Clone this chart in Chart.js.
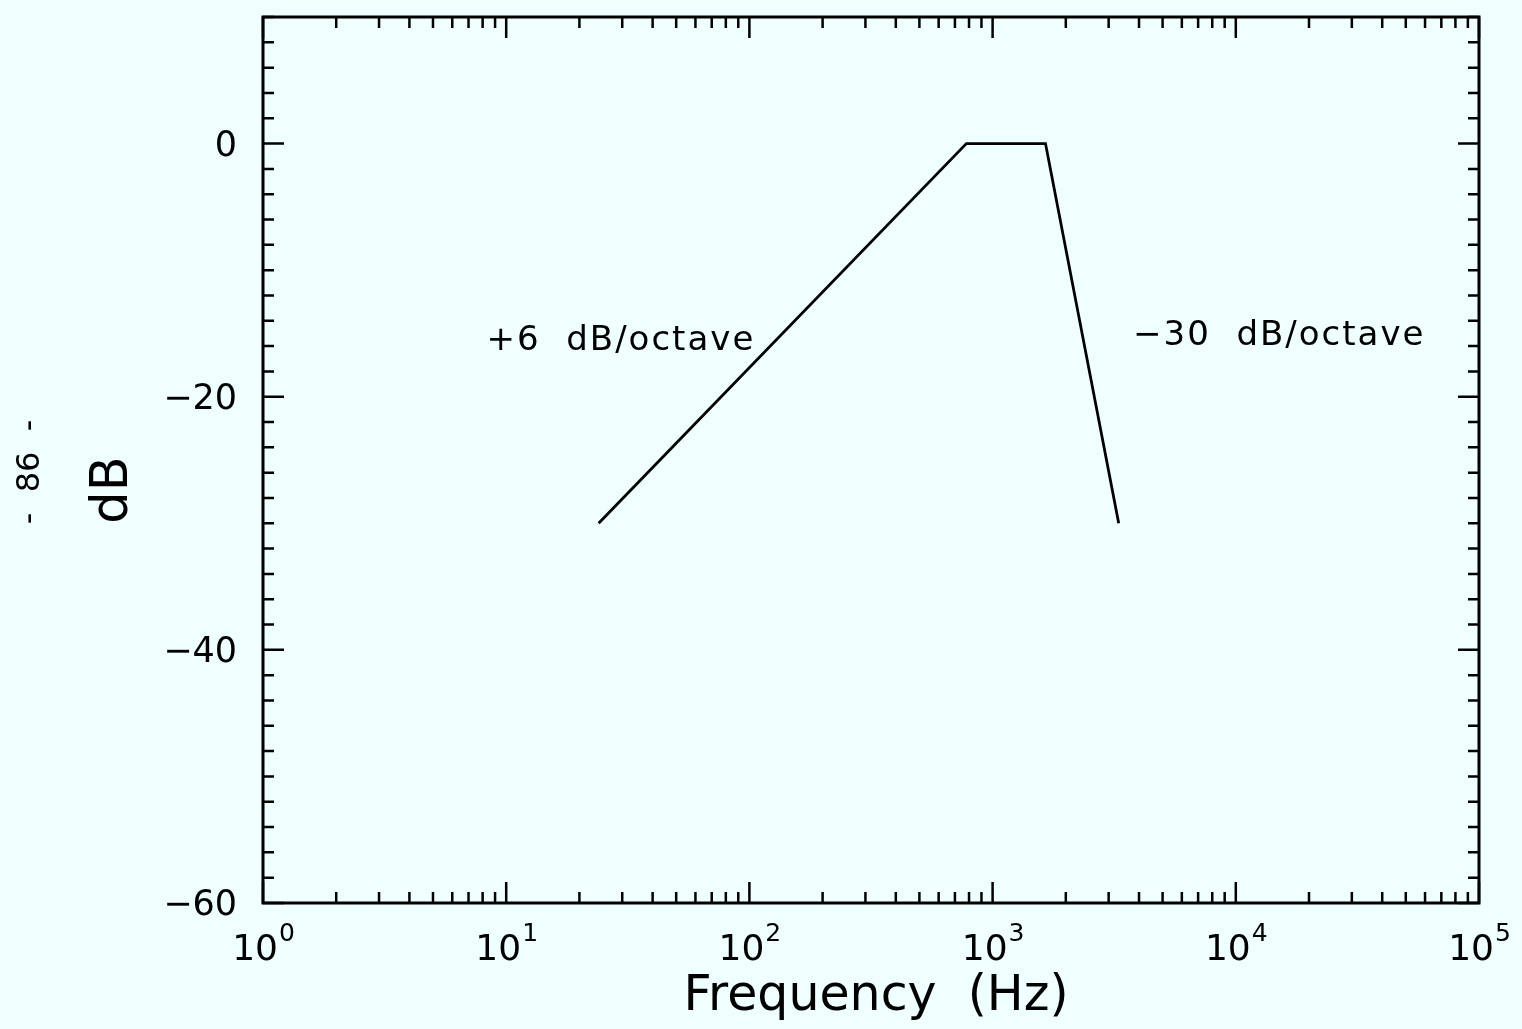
<!DOCTYPE html>
<html>
<head>
<meta charset="utf-8">
<title>Filter response</title>
<script src="https://cdn.jsdelivr.net/npm/chart.js@4.4.1/dist/chart.umd.min.js"></script>
<style>
  html, body { margin: 0; padding: 0; background: #effefe; }
  #wrap { width: 1522px; height: 1029px; }
</style>
</head>
<body>
<div id="wrap"><canvas id="response"></canvas></div>
<script>
// corner points of the response curve
const freqHz   = [24, 780, 1650, 3300];
const levelDb  = [-30, 0, 0, -30];

// axes
const xDecades    = [1, 10, 100, 1000, 10000, 100000];
const xExponents  = ['0', '1', '2', '3', '4', '5'];
const yMajor      = [0, -20, -40, -60];
const yMajorLabel = ['0', '\u221220', '\u221240', '\u221260'];
const yMin = -60, yMax = 10, yMinorStep = 2;

// slope annotations (anchored in data units: left edge / baseline)
const noteText = ['+6  dB/octave', '\u221230  dB/octave'];
const noteFreq = [8.3, 3780];
const noteDb   = [-16.3, -15.9];

const BG = '#effefe';
const FONT = '"DejaVu Sans", sans-serif';

const framePlugin = {
  id: 'frame',
  beforeDraw(chart) {
    const ctx = chart.ctx;
    ctx.save();
    ctx.fillStyle = BG;
    ctx.fillRect(0, 0, chart.width, chart.height);
    ctx.restore();
  },
  afterDraw(chart) {
    const { ctx, chartArea: a, scales: { x, y } } = chart;
    ctx.save();
    ctx.strokeStyle = '#000';
    ctx.fillStyle = '#000';

    // box
    ctx.lineWidth = 3;
    ctx.strokeRect(a.left, a.top, a.right - a.left, a.bottom - a.top);

    // inward ticks on all four sides
    ctx.lineWidth = 2.5;
    ctx.beginPath();
    const xLast = xDecades[xDecades.length - 1];
    xDecades.forEach(dec => {
      for (let m = 1; m <= 9; m++) {
        const v = dec * m;
        if (v > xLast) break;
        const px = x.getPixelForValue(v);
        const len = m === 1 ? 21 : 11;
        ctx.moveTo(px, a.bottom); ctx.lineTo(px, a.bottom - len);
        ctx.moveTo(px, a.top);    ctx.lineTo(px, a.top + len);
      }
    });
    for (let v = yMin; v <= yMax; v += yMinorStep) {
      const py = y.getPixelForValue(v);
      const len = yMajor.includes(v) ? 21 : 11;
      ctx.moveTo(a.left, py);  ctx.lineTo(a.left + len, py);
      ctx.moveTo(a.right, py); ctx.lineTo(a.right - len, py);
    }
    ctx.stroke();

    // y tick labels
    ctx.font = '35px ' + FONT;
    ctx.textAlign = 'right';
    ctx.textBaseline = 'middle';
    yMajor.forEach((v, i) => {
      ctx.fillText(yMajorLabel[i], a.left - 26, y.getPixelForValue(v) + 3);
    });

    // x tick labels: 10 with superscript exponent
    ctx.textAlign = 'left';
    ctx.textBaseline = 'alphabetic';
    xDecades.forEach((dec, i) => {
      const px = x.getPixelForValue(dec);
      ctx.font = '36px ' + FONT;
      const wBase = ctx.measureText('10').width;
      ctx.font = '25px ' + FONT;
      const wExp = ctx.measureText(xExponents[i]).width;
      const left = px - (wBase + wExp) / 2;
      const base = a.bottom + 57;
      ctx.font = '36px ' + FONT;
      ctx.fillText('10', left, base);
      ctx.font = '25px ' + FONT;
      ctx.fillText(xExponents[i], left + wBase + 1, base - 19);
    });

    // axis titles
    ctx.font = '49px ' + FONT;
    ctx.textAlign = 'center';
    ctx.fillText('Frequency  (Hz)', (a.left + a.right) / 2 + 5, a.bottom + 107);

    ctx.save();
    ctx.translate(127, 490);
    ctx.rotate(-Math.PI / 2);
    ctx.font = '51px ' + FONT;
    ctx.fillText('dB', 0, 0);
    ctx.restore();

    // page number in the margin
    ctx.save();
    ctx.translate(39, 472);
    ctx.rotate(-Math.PI / 2);
    ctx.font = '32px ' + FONT;
    ctx.fillText('-  86  -', 0, 0);
    ctx.restore();

    // slope annotations
    ctx.textAlign = 'left';
    ctx.font = '34px ' + FONT;
    ctx.letterSpacing = '2px';
    noteText.forEach((t, i) => {
      ctx.fillText(t, x.getPixelForValue(noteFreq[i]), y.getPixelForValue(noteDb[i]));
    });
    ctx.letterSpacing = '0px';

    ctx.restore();
  }
};

new Chart(document.getElementById('response'), {
  type: 'line',
  data: {
    datasets: [{
      data: freqHz.map((f, i) => ({ x: f, y: levelDb[i] })),
      borderColor: '#000',
      borderWidth: 2.8,
      pointRadius: 0,
      tension: 0,
      fill: false
    }]
  },
  options: {
    responsive: true,
    maintainAspectRatio: false,
    animation: false,
    layout: { padding: { left: 263, right: 43, top: 17, bottom: 126 } },
    plugins: {
      legend: { display: false },
      tooltip: { enabled: false }
    },
    scales: {
      x: { type: 'logarithmic', min: xDecades[0], max: xDecades[xDecades.length - 1], display: false },
      y: { type: 'linear', min: yMin, max: yMax, display: false }
    }
  },
  plugins: [framePlugin]
});
</script>
</body>
</html>
